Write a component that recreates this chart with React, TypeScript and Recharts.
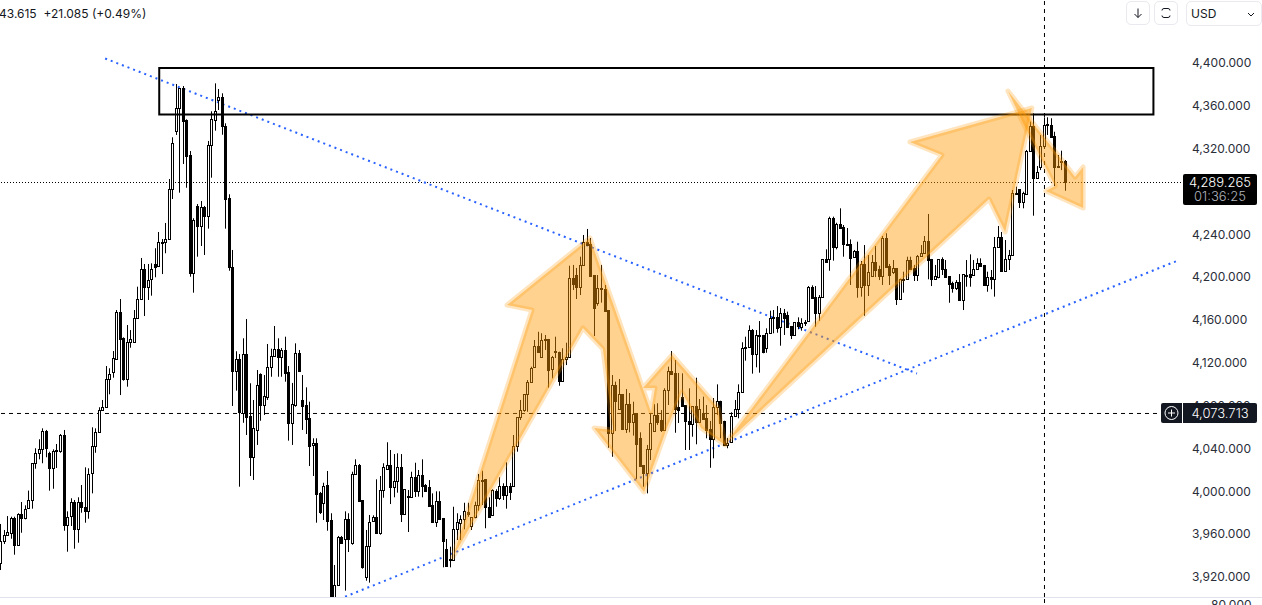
import React from 'react';
import { ComposedChart, Bar, Line, XAxis, YAxis, ReferenceLine, ReferenceArea } from 'recharts';

const opens = [
  3933.3,3953.3,3959.5,3961.3,3975.1,3950.1,3978.5,3975.4,3984.7,3991.6,
  4026.2,4035.5,4039.2,4056,4035.5,4022,4037.6,4037.4,4052.3,3968.3,
  3976.7,3990.3,3965.1,3990.3,3985,3981.9,4016.8,4042.6,4055.1,4076.2,
  4079,4104.6,4111.7,4123.3,4167.2,4142.9,4105.2,4139.2,4139.8,4161.6,
  4179.3,4207.3,4190.5,4198,4212,4210.1,4232.2,4232.6,4235.3,4282,
  4336.8,4357.7,4376.4,4346.8,4314.1,4204.2,4266.5,4248.1,4265.5,4257.4,
  4323.1,4347,4365.7,4368,4341.2,4273.6,4209.8,4112.6,4123.3,4073.4,
  4128.2,4070.3,4032.3,4057.3,4109.3,4080.9,4088.3,4115.8,4126.1,4132.6,
  4125.2,4131.7,4111.4,4064.1,4080.9,4128.9,4085.3,4080.3,4068.2,4043,
  4044.8,3998.2,3988.8,4005.6,3973.2,3898.5,3912.2,3957.6,3955.2,3974.4,
  3951.5,4015.9,4024.6,3991.6,3920.3,3949.2,3972,3976,3960.8,4000.9,
  4020.6,4024.3,4004.3,4009.3,4022.4,3979.1,3995.5,3995,4013.1,4000,
  4015,4005.6,4004.3,3986.9,3971.6,3991,3974.8,3945.8,3936,3935.8,
  3964.5,3970.7,3974.4,3981,3967.9,3975.7,3987,4010.3,4011.2,3985,
  3978.2,4000.6,3994,4005.2,3996.8,4004.7,4004.7,4042.6,4069.1,4075.6,
  4090.9,4101.8,4115.8,4135.4,4125.2,4141.8,4142.3,4114,4130.4,4130.4,
  4103.3,4123.8,4125.7,4198.9,4202,4191.1,4211.1,4232.6,4231,4202,
  4176.2,4189.4,4188.9,4169.3,4054.7,4099.3,4077.1,4090.6,4057.9,4081.3,
  4064.5,4072.9,4049.5,4024.6,4017,4039.2,4056.3,4070.9,4066.6,4057.5,
  4094.9,4112.4,4110.2,4078.7,4088,4080.3,4065.7,4062.9,4079.4,4065,
  4072.9,4068.2,4058.2,4049.1,4078.5,4084.6,4065.9,4043,4045.8,4070.6,
  4076.6,4092.5,4134,4134.5,4150.4,4128,4146,4146,4133.6,4147.6,
  4162.6,4162.8,4153.2,4166.2,4164.7,4154.4,4146.3,4158.1,4153.7,4157.8,
  4158.8,4190.5,4181.5,4166.8,4181.8,4216.7,4216.7,4255,4228.4,4249.4,
  4246.6,4231,4230.7,4218.5,4224.4,4191.1,4212,4193,4201.4,4213.9,
  4207.6,4201,4236.9,4210.4,4205.1,4208.3,4179.9,4198.2,4198,4215.7,
  4208.8,4202.3,4219.8,4222.3,4233.5,4217,4198,4200.1,4216.7,4207.3,
  4200.8,4194.5,4189.6,4195.2,4178.7,4202.3,4202.7,4202.3,4207.6,4212.9,
  4211.4,4193,4199.9,4198.6,4227.9,4237.2,4206,4217.4,4220.4,4278.1,
  4282.1,4269.9,4277.7,4317.8,4341.2,4292.9,4302.6,4322.5,4342.7,4342.1,
  4331.8,4304,4308.2,4308.2,
];

const highs = [
  3969.5,3963.9,3976.9,3976.3,3976.3,3979.5,3990,3986.9,4000.7,4026.2,
  4040.2,4048.6,4058.8,4057.3,4037,4039.2,4044.2,4053.5,4057.3,3981.3,
  3993.5,3991.9,3994.4,4005.9,4022.4,4021.5,4059.8,4058.8,4078.5,4085.3,
  4117,4114.9,4131,4169.3,4179.6,4143.8,4155.3,4150.6,4169.3,4191.1,
  4217.9,4212.3,4212.3,4212.9,4227,4242.2,4235.6,4250.6,4291.7,4330.6,
  4380.4,4376.6,4378.5,4347.4,4317.8,4255,4268.3,4271.1,4266.5,4327.2,
  4354.9,4381,4375.7,4371.7,4343.7,4277.4,4225.4,4130.8,4128.2,4142.9,
  4160.9,4100.9,4085.3,4113.3,4110.2,4108.6,4137.6,4133.2,4154.4,4142.9,
  4133.8,4144.4,4117,4101.2,4138.2,4132,4108.6,4097.1,4083.7,4049.5,
  4049.5,3999.4,4008,4019,3979.5,3931.2,3958.3,3958.3,3981.3,3979.5,
  4018.3,4029.9,4025.5,3991.6,3963.9,3977.9,3977.6,4011.2,4014.3,4026.2,
  4045.8,4038.6,4034.8,4035.5,4034.8,4001.9,4001.2,4018.3,4026.7,4019.9,
  4029.9,4006.8,4010.5,3998.1,4000,4000,3975.1,3955.5,3948.3,3985.6,
  3979.5,3977.6,3989.3,3989.3,3976,3990.3,4016.2,4019.2,4011.2,3994.4,
  4001.9,4001.9,4013.1,4007.5,4027.1,4007.8,4052.6,4069.1,4085.3,4090.9,
  4103.9,4116.4,4141.3,4149,4147.6,4146,4142.3,4126.4,4144.4,4130.4,
  4133.6,4138.8,4210.7,4211.4,4208.6,4219.1,4239.4,4245,4236.6,4202,
  4202,4211.4,4192.7,4169.3,4108.6,4102.4,4104.9,4090.6,4095.5,4091.8,
  4083.7,4072.9,4055.1,4024.6,4043.3,4072.2,4081.3,4082.2,4075.9,4096.2,
  4116.4,4131,4122.6,4110.5,4110.2,4080.3,4096.2,4079.4,4106.1,4086.2,
  4088.4,4080.6,4065.7,4087.1,4099.9,4084.6,4065.9,4049.8,4073.8,4085.3,
  4099.9,4139.2,4144.4,4155,4151.6,4150.6,4159,4146,4152.2,4168.7,
  4169.3,4173,4171.2,4170.3,4167.8,4154.4,4158.1,4162.5,4161.6,4160,
  4191.7,4192.4,4191.7,4183.3,4216.7,4226,4256.5,4256.5,4250.8,4264.3,
  4248.7,4245.9,4235.3,4225.4,4233.1,4215.1,4230,4220.7,4220.7,4229.1,
  4210.7,4238.4,4241,4212.3,4216,4208.3,4198.6,4205.1,4219.1,4219.1,
  4211.4,4220.7,4230,4238.4,4259,4217,4211.4,4216.7,4218.5,4216,
  4200.8,4195.8,4197.3,4202.9,4202.9,4216,4221.3,4216,4217.6,4217.6,
  4211.4,4205.1,4206.7,4237.5,4247.8,4242.2,4234.7,4225.4,4281.4,4284.5,
  4282.3,4279.8,4318.8,4345.2,4353,4303.8,4332.8,4349.3,4349.3,4348.4,
  4335.8,4314.1,4318.1,4309.4,
];

const lows = [
  3926.5,3950.8,3959.2,3955.7,3940.8,3950.1,3961.3,3973.8,3984.7,3983.8,
  4021.1,4029.9,4026.2,4031.8,4000.6,4002.4,4021.8,4036,3963.2,3943.6,
  3967.6,3946.4,3952,3980,3970.7,3974.4,3998.1,4036,4055.1,4076.2,
  4078.1,4090.6,4106.1,4123.3,4089.9,4103.3,4097.7,4134.1,4139.8,4161.6,
  4178.7,4163.7,4178.7,4182.7,4199.9,4209.8,4202.9,4222.3,4235.3,4273,
  4332.8,4278.9,4305.7,4283.5,4200.4,4185.5,4219.1,4229.1,4220.7,4245.3,
  4292.9,4336.8,4356.1,4333,4245.3,4206,4079.7,4094,4004.3,4064,
  4052.6,4014.3,4010.6,4043.3,4065.9,4071.3,4085.3,4107,4125.7,4107,
  4107,4102.4,4047.3,4043.3,4079,4112.6,4057.3,4053.5,4023.6,4014.3,
  3970.7,3978.8,3973.2,3963.2,3896.6,3896.6,3911.6,3952,3907.2,3943.3,
  3950.1,4015.9,3990.3,3927.7,3916.5,3914.7,3972,3960.8,3959.5,3994,
  4020.6,3988.1,3994.4,3998.7,3971.3,3978.8,3962,3994.7,3994.7,3995,
  3994.4,4000,3986.3,3971.3,3966.7,3974.1,3929,3929.8,3929,3935.8,
  3954.5,3954.5,3964.5,3976.3,3963.9,3974.8,3981.9,3987.2,3965.5,3975.7,
  3978.2,3985.6,3991.9,3991.9,3983.8,3991.9,4004.7,4037,4066.6,4074.3,
  4074.3,4101.8,4115.8,4129.9,4125.2,4132,4096.8,4105.5,4124.5,4098.6,
  4103.3,4117.9,4124.8,4188,4179.6,4183.3,4211.1,4229.1,4201.4,4145,
  4173.3,4176.2,4167.9,4040.7,4032.3,4056.3,4077.1,4057.9,4054.5,4055.1,
  4052,4011.5,4023.9,4004.3,3998.1,4029.2,4055.7,4062,4055.4,4057.5,
  4080.6,4109.8,4054.7,4063.8,4080,4038.6,4038.6,4051,4043.9,4065,
  4067.5,4049.5,4022,4030.8,4071.3,4049.5,4043,4040.2,4045.8,4070.6,
  4068.2,4092.5,4122,4134.5,4109.9,4115.8,4110.8,4128.9,4129.4,4147.6,
  4147.6,4148.1,4136,4146,4153.4,4142.2,4146.3,4151.3,4150,4154.4,
  4158.8,4180.8,4153.7,4159.3,4181.8,4214.4,4206,4215.4,4226,4245.6,
  4219.1,4230,4192.7,4218.5,4180.8,4181.8,4164,4182.4,4201.4,4200.1,
  4197.3,4192.7,4209.8,4192.7,4202.9,4174,4178.7,4185.5,4198,4207.6,
  4196.4,4196.4,4219.8,4222.3,4198,4191.7,4198,4198.9,4202,4200.4,
  4176.1,4185.5,4188,4178.7,4169.3,4191.1,4191.1,4202,4207.6,4210.7,
  4193,4186.4,4188.7,4181.8,4227.9,4206,4205.3,4206.7,4219.8,4278,
  4264.6,4264.3,4276.7,4317.8,4257.4,4292.9,4300,4322.5,4332.8,4331.2,
  4285.1,4302.9,4300,4280.7,
];

const closes = [
  3953.3,3959.5,3961.7,3975.1,3950.1,3978.8,3975.4,3983.2,3991.6,4026.2,
  4035.5,4039.2,4056,4040.7,4022,4037.9,4038.6,4052.3,3968.3,3975.7,
  3990.3,3965.1,3990.3,3985,3981.9,4015.9,4042.6,4055.1,4076.2,4078.5,
  4104.9,4109.3,4124.2,4167.2,4142.5,4105.2,4139.2,4142,4161.6,4179.3,
  4207.3,4190.5,4197.6,4207.3,4209.8,4232.6,4232.6,4235.3,4282,4325,
  4357.7,4376.4,4346.1,4313.4,4204.2,4253.1,4248.1,4265.5,4257.4,4323.1,
  4347.4,4354.9,4368,4341.4,4273.3,4209.8,4112.6,4123.8,4074.1,4128,
  4069.7,4032.3,4058.8,4099,4080.9,4088.7,4115.8,4126.1,4132.6,4125.2,
  4131.7,4110.8,4064.1,4081.3,4128.9,4112.6,4079.7,4067.8,4042.6,4044.8,
  3997.8,3980.7,4005.2,3972.6,3898.5,3912.2,3957.6,3952,3974.4,3955.2,
  4015.9,4024.6,3990.9,3929.3,3949.2,3971.1,3975.7,3960.8,4000.9,4023,
  4024.3,4004.3,4009.3,4022.4,3979.1,4001.9,3996,4013.1,4000,4015,
  4005.2,4000.6,3986.3,3971.6,3990.7,3974.1,3953.9,3930.5,3936.5,3964.5,
  3971.1,3974.4,3981.3,3978.8,3976,3987,4010.3,4011,3985,3975.7,
  4000.9,3994,4005.2,3996.8,4004.7,3999.6,4042.6,4069.1,4075.6,4090.9,
  4101.8,4114.9,4135.4,4130.4,4141.3,4142,4113.3,4125.7,4130.7,4103.3,
  4123.8,4125.7,4198.9,4193.9,4191.1,4211.1,4232.6,4230,4201.4,4170.9,
  4189.6,4189.6,4168.7,4054.7,4099.3,4084.3,4090.6,4057.9,4081.3,4064.5,
  4072.5,4044.5,4023.9,4017,4039.2,4064.1,4070.9,4064.5,4057.5,4094.3,
  4112.4,4109.8,4077.1,4076,4080,4066,4062.9,4079.4,4064.7,4076.6,
  4067.5,4057.5,4049.1,4078.5,4084.6,4064,4043,4045.4,4070.6,4077.3,
  4092.5,4133.6,4134.5,4150.4,4128,4146.3,4146.3,4129.8,4147.6,4161.9,
  4162.8,4152.5,4166.2,4161.9,4153.7,4146,4158.1,4154.4,4156.9,4158,
  4190.5,4180.8,4166.8,4181.8,4216.7,4214.4,4255,4228.4,4249.4,4246.2,
  4231.2,4231.2,4218.2,4224.4,4191.1,4212,4193,4204.5,4213.9,4207,
  4201,4236.3,4209.8,4202.3,4208.3,4179.9,4198.6,4198.4,4215.7,4207.6,
  4202.3,4219.8,4222.3,4233.5,4216.3,4198,4200.8,4216.7,4207.3,4200.4,
  4193.9,4189.6,4195.2,4178.7,4202.9,4200.8,4200.4,4207.6,4212.9,4210.7,
  4193,4199.9,4198.6,4227.9,4237.2,4206,4217.4,4220.4,4278.3,4278.3,
  4269.9,4278.3,4317.8,4341.2,4292.9,4298.5,4322.5,4342.4,4342.9,4331.2,
  4303.2,4304.2,4308.2,4289.27,
];

const priceTicks = [4400, 4360, 4320, 4240, 4200, 4160, 4120, 4080, 4040, 4000, 3960, 3920];

const lastPriceLevel = 4288.4;
const crosshairLevel = 4072.7;
const crosshairBar = 297.09;

// drawings, in bar index / price
const zoneBars = [45.1, 328.1];
const zonePrices = [4351.9, 4395.3];
const fallingTrendBars = [29.7, 260.8];
const fallingTrendPrices = [4404.2, 4110];
const risingTrendBars = [98, 335.4];
const risingTrendPrices = [3901.5, 4216];

const zigzagBars = [128.7, 151.2, 144.1, 167.7, 185.1, 186.2, 182.8, 191.1, 204.2, 206.2, 199.3, 193.9, 189.6, 183.1, 168.9, 174.3, 171.4, 165.7];
const zigzagPrices = [3938.7, 4169.3, 4174, 4236.6, 4074.1, 4096.5, 4096.5, 4127.3, 4077.8, 4043.2, 4059.1, 4092.7, 4059.1, 3999.4, 4059.1, 4057.3, 4132.9, 4152.5];
const bigArrowBars = [206.4, 267.9, 258.8, 293.5, 285.9, 281.3];
const bigArrowPrices = [4045.1, 4314.1, 4326.2, 4358, 4242.2, 4273];
const downArrowBars = [286.7, 305.8, 308.1, 308.1, 297.5, 300.1, 291];
const downArrowPrices = [4373.9, 4293.5, 4302.9, 4264.6, 4280.5, 4285.1, 4344];

const candles = opens.map((open, i) => ({
  bar: i,
  open,
  high: highs[i],
  low: lows[i],
  close: closes[i],
}));

const toPoints = (bars: number[], prices: number[]) => bars.map((bar, i) => ({ bar, price: prices[i] }));
const toSegment = (bars: number[], prices: number[]) => bars.map((bar, i) => ({ x: bar, y: prices[i] }));

const Candle = (props: any) => {
  const { x, y, width, height, payload } = props;
  const { open, high, low, close } = payload;
  const perUnit = high > low ? height / (high - low) : 0;
  const cx = Math.floor(x + width / 2) + 0.5;
  const top = y + (high - Math.max(open, close)) * perUnit;
  const bottom = y + (high - Math.min(open, close)) * perUnit;
  return (
    <g>
      <line x1={cx} x2={cx} y1={y} y2={y + height} stroke="#000" strokeWidth={1} />
      <rect
        x={cx - 1}
        y={Math.round(top) + 0.5}
        width={2}
        height={Math.max(Math.round(bottom) - Math.round(top), 1)}
        fill={close >= open ? '#fff' : '#000'}
        stroke="#000"
        strokeWidth={1}
      />
    </g>
  );
};

const arrowDot = (props: any) => {
  const { index, points } = props;
  if (index !== 0 || !points) return <g key={index} />;
  return (
    <polygon
      key={index}
      points={points.map((p: any) => `${p.x},${p.y}`).join(' ')}
      fill="#ff9800"
      fillOpacity={0.44}
      stroke="#ff9800"
      strokeOpacity={0.25}
      strokeWidth={5}
      strokeLinejoin="round"
    />
  );
};

const ArrowDrawing = (bars: number[], prices: number[], key: string) => (
  <Line
    key={key}
    data={toPoints(bars, prices)}
    dataKey="price"
    stroke="none"
    dot={arrowDot}
    activeDot={false}
    legendType="none"
    isAnimationActive={false}
    zIndex={450}
  />
);

const iconBox: React.CSSProperties = {
  position: 'absolute',
  top: 1,
  height: 22,
  width: 22,
  border: '1px solid #e9e9ef',
  borderRadius: 5,
  background: '#fff',
};

const priceLabel: React.CSSProperties = {
  position: 'absolute',
  background: '#000',
  color: '#fff',
  textAlign: 'center',
};

export default function App() {
  return (
    <div style={{ position: 'absolute', left: 0, top: 0, width: 1262, height: 605, overflow: 'hidden', background: '#fff', fontFamily: 'Inter, sans-serif' }}>
      <ComposedChart width={1262} height={605} data={candles} margin={{ top: 0, right: 0, bottom: 8, left: 0 }}>
        <XAxis dataKey="bar" type="number" domain={[-0.228, 335.95]} allowDataOverflow hide />
        <YAxis
          orientation="right"
          width={81}
          type="number"
          domain={[3901.3, 4458.84]}
          allowDataOverflow
          ticks={priceTicks}
          tickFormatter={(v: number) => v.toLocaleString('en-US', { minimumFractionDigits: 3 })}
          axisLine={false}
          tickLine={false}
          tickMargin={5}
          tick={{ fontSize: 12, fontFamily: 'Inter', fill: '#2a2e39' }}
        />
        <ReferenceLine y={lastPriceLevel} stroke="#000" strokeDasharray="1 2" />
        <ReferenceLine y={crosshairLevel} stroke="#000" strokeDasharray="4 4" />
        <ReferenceLine x={crosshairBar} stroke="#000" strokeDasharray="4 4" />
        <ReferenceLine
          segment={toSegment(fallingTrendBars, fallingTrendPrices)}
          ifOverflow="visible"
          stroke="#2962ff"
          strokeWidth={2}
          strokeDasharray="2 4"
        />
        <ReferenceLine
          segment={toSegment(risingTrendBars, risingTrendPrices)}
          ifOverflow="visible"
          stroke="#2962ff"
          strokeWidth={2}
          strokeDasharray="2 4"
        />
        {ArrowDrawing(zigzagBars, zigzagPrices, 'zigzag')}
        {ArrowDrawing(bigArrowBars, bigArrowPrices, 'big')}
        {ArrowDrawing(downArrowBars, downArrowPrices, 'down')}
        <Bar dataKey={(d: any) => [d.low, d.high]} barSize={3} shape={Candle} isAnimationActive={false} zIndex={500} />
        <ReferenceArea
          x1={zoneBars[0]}
          x2={zoneBars[1]}
          y1={zonePrices[0]}
          y2={zonePrices[1]}
          fill="none"
          stroke="#000"
          strokeWidth={2}
          zIndex={600}
        />
      </ComposedChart>

      {/* pane divider and what peeks out of the lower pane */}
      <div style={{ position: 'absolute', left: 0, top: 597, width: 1262, height: 1, background: '#e0e3eb' }} />
      <div style={{ position: 'absolute', left: 1044, top: 599, width: 1, height: 4, background: '#000' }} />
      <div style={{ position: 'absolute', left: 1211, top: 598, fontSize: 12, color: '#2a2e39', lineHeight: '14px' }}>80.000</div>

      {/* header */}
      <div style={{ position: 'absolute', left: -1, top: 6, fontSize: 12, lineHeight: '15px', color: '#131722', whiteSpace: 'nowrap' }}>
        43.615 &nbsp;+21.085 (+0.49%)
      </div>

      {/* toolbar */}
      <div style={{ ...iconBox, left: 1126 }}>
        <svg width={22} height={22}>
          <path d="M11 6.5v9M7.5 12l3.5 3.5 3.5-3.5" fill="none" stroke="#131722" strokeWidth={1} />
        </svg>
      </div>
      <div style={{ ...iconBox, left: 1154 }}>
        <svg width={22} height={22}>
          <path d="M7 8.5Q7 6.5 9 6.5h4q2 0 2 2M7 13.5q0 2 2 2h4q2 0 2-2" fill="none" stroke="#131722" strokeWidth={1} />
        </svg>
      </div>
      <div style={{ position: 'absolute', left: 1186, top: 1, width: 70, height: 23, border: '1px solid #e9e9ef', borderRadius: 5, fontSize: 12, lineHeight: '23px', color: '#131722', paddingLeft: 4, boxSizing: 'content-box' }}>
        USD
        <svg width={8} height={6} style={{ position: 'absolute', left: 60, top: 10 }}>
          <path d="M1 1l3 3 3-3" fill="none" stroke="#131722" strokeWidth={1} />
        </svg>
      </div>

      {/* last price label */}
      <div style={{ ...priceLabel, left: 1183, top: 174, width: 74, height: 31, borderRadius: 2, fontSize: 13, lineHeight: '14px', paddingTop: 1, boxSizing: 'border-box', fontWeight: 300 }}>
        <div>4,289.265</div>
        <div style={{ color: '#b2b5be' }}>01:36:25</div>
      </div>

      {/* crosshair label */}
      <div style={{ ...priceLabel, left: 1161, top: 403, width: 21, height: 20, background: '#131722', borderRadius: '2px 0 0 2px' }}>
        <svg width={21} height={20} style={{ display: 'block' }}>
          <circle cx={10.5} cy={10} r={6.5} fill="none" stroke="#fff" strokeWidth={1} />
          <path d="M10.5 6.5v7M7 10h7" stroke="#fff" strokeWidth={1} />
        </svg>
      </div>
      <div style={{ ...priceLabel, left: 1183, top: 403, width: 74, height: 20, background: '#131722', borderRadius: '0 2px 2px 0', fontSize: 13, lineHeight: '20px', fontWeight: 300 }}>
        4,073.713
      </div>
    </div>
  );
}
